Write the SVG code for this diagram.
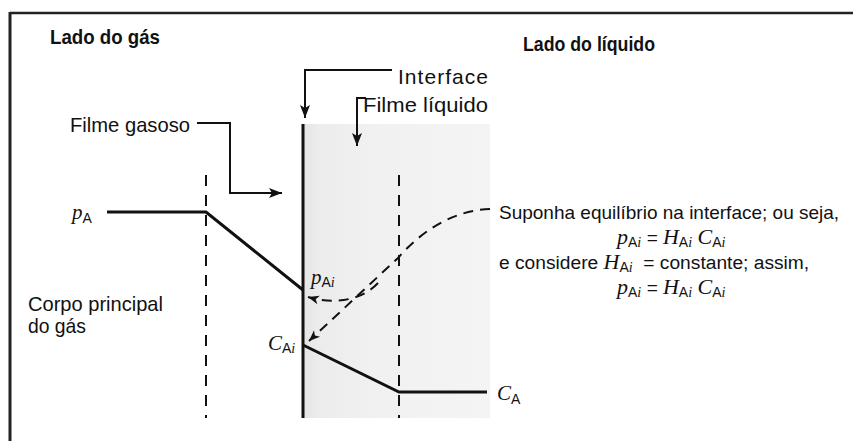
<svg xmlns="http://www.w3.org/2000/svg" width="853" height="441" viewBox="0 0 853 441">
  <style>
    .lbl { font-family: "Liberation Sans", Arial, sans-serif; fill: #111; }
    .hd { font-family: "Liberation Sans", Arial, sans-serif; font-size: 21px; font-weight: bold; fill: #111; }
    .m { font-family: "Liberation Serif", "Times New Roman", serif; font-style: italic; fill: #111; }
    .sub { font-family: "Liberation Sans", Arial, sans-serif; font-style: normal; font-size: 14px; }
    .subi { font-family: "Liberation Serif", "Times New Roman", serif; font-style: italic; font-size: 14px; }
    .prof { fill: none; stroke: #111; stroke-width: 3; stroke-linejoin: miter; }
    .conn { fill: none; stroke: #111; stroke-width: 2; }
    .dash { fill: none; stroke: #111; stroke-width: 2; stroke-dasharray: 11 9; }
    .dcurve { fill: none; stroke: #111; stroke-width: 2; stroke-dasharray: 10 7; }
  </style>
  <defs>
    <linearGradient id="shade" x1="0" y1="0" x2="1" y2="0">
      <stop offset="0" stop-color="#e4e4e4"/>
      <stop offset="0.08" stop-color="#ececec"/>
      <stop offset="0.4" stop-color="#f1f1f1"/>
      <stop offset="1" stop-color="#f4f4f4"/>
    </linearGradient>
    <marker id="ah" markerUnits="userSpaceOnUse" markerWidth="16" markerHeight="12" refX="13" refY="5" orient="auto">
      <path d="M0,0 L13,5 L0,10 L3,5 z" fill="#111"/>
    </marker>
    <marker id="ahd" markerUnits="userSpaceOnUse" markerWidth="16" markerHeight="12" refX="12" refY="5" orient="auto">
      <path d="M1,0.5 L12,5 L1,9.5 L4,5 z" fill="#111"/>
    </marker>
  </defs>

  <rect width="853" height="441" fill="#fff"/>

  <!-- frame -->
  <g id="frame">
    <line x1="10" y1="13" x2="853" y2="13" stroke="#222" stroke-width="2.5"/>
    <line x1="10" y1="12" x2="10" y2="441" stroke="#222" stroke-width="3"/>
  </g>

  <!-- liquid film shading -->
  <g id="liquid-film">
    <rect x="303" y="124" width="187" height="294" fill="url(#shade)"/>
  </g>

  <!-- boundaries -->
  <g id="boundaries">
    <line x1="206" y1="175" x2="206" y2="418" class="dash"/>
    <line x1="399" y1="175" x2="399" y2="418" class="dash"/>
    <line x1="303" y1="124" x2="303" y2="418" stroke="#111" stroke-width="3"/>
  </g>

  <!-- concentration profiles -->
  <g id="profiles">
    <polyline class="prof" points="107,212 206,212 303,290"/>
    <polyline class="prof" points="303,345 399,392 487,392"/>
  </g>

  <!-- connectors -->
  <g id="connectors">
    <polyline class="conn" points="197,123 230,123 230,193 282,193" marker-end="url(#ah)"/>
    <polyline class="conn" points="392,70 305,70 305,118" marker-end="url(#ah)"/>
    <polyline class="conn" points="366,98 357,98 357,146" marker-end="url(#ah)"/>
    <path class="dcurve" d="M490,209 C455,210 422,230 398,258 L309,341" marker-end="url(#ahd)"/>
    <path class="dcurve" d="M378,283 C362,300 336,305 308,297" marker-end="url(#ahd)"/>
  </g>

  <!-- labels -->
  <g id="lado-gas"><text class="hd" x="50" y="44" textLength="110" lengthAdjust="spacingAndGlyphs">Lado do gás</text></g>
  <g id="lado-liquido"><text class="hd" x="523" y="51" textLength="132" lengthAdjust="spacingAndGlyphs">Lado do líquido</text></g>
  <g id="interface-label"><text class="lbl" x="398" y="84" style="font-size:21px" textLength="90" lengthAdjust="spacing">Interface</text></g>
  <g id="filme-liquido-label"><text class="lbl" x="363" y="112" style="font-size:21px" textLength="125" lengthAdjust="spacingAndGlyphs">Filme líquido</text></g>
  <g id="filme-gasoso-label"><text class="lbl" x="70" y="132" style="font-size:21px" textLength="120" lengthAdjust="spacingAndGlyphs">Filme gasoso</text></g>
  <g id="corpo-label">
    <text class="lbl" x="28" y="311" style="font-size:21px" textLength="135" lengthAdjust="spacingAndGlyphs">Corpo principal</text>
    <text class="lbl" x="28" y="333" style="font-size:21px" textLength="58" lengthAdjust="spacingAndGlyphs">do gás</text>
  </g>

  <g id="pA"><text x="72" y="219" class="m" font-size="21">p<tspan class="sub" dy="4">A</tspan></text></g>
  <g id="pAi"><text x="311" y="284" class="m" font-size="21">p<tspan class="sub" dy="3">A</tspan><tspan class="subi">i</tspan></text></g>
  <g id="CAi"><text x="268" y="350" class="m" font-size="21">C<tspan class="sub" dy="3">A</tspan><tspan class="subi">i</tspan></text></g>
  <g id="CA"><text x="497" y="400" class="m" font-size="21">C<tspan class="sub" dy="4">A</tspan></text></g>

  <g id="note">
    <text class="lbl" x="499" y="219" style="font-size:19px">Suponha equilíbrio na interface; ou seja,</text>
    <text x="617" y="244" class="m" font-size="22">p<tspan class="sub" dy="3">A</tspan><tspan class="subi">i</tspan><tspan class="lbl" dy="-3" style="font-size:19px"> = </tspan>H<tspan class="sub" dy="3">A</tspan><tspan class="subi">i</tspan><tspan dy="-3"> C</tspan><tspan class="sub" dy="3">A</tspan><tspan class="subi">i</tspan></text>
    <text class="lbl" x="499" y="269" style="font-size:19.2px">e considere <tspan class="m" style="font-size:22px">H</tspan><tspan class="sub" dy="3">A</tspan><tspan class="subi">i</tspan><tspan dy="-3" xml:space="preserve">  = constante; assim,</tspan></text>
    <text x="617" y="294" class="m" font-size="22">p<tspan class="sub" dy="3">A</tspan><tspan class="subi">i</tspan><tspan class="lbl" dy="-3" style="font-size:19px"> = </tspan>H<tspan class="sub" dy="3">A</tspan><tspan class="subi">i</tspan><tspan dy="-3"> C</tspan><tspan class="sub" dy="3">A</tspan><tspan class="subi">i</tspan></text>
  </g>
</svg>
